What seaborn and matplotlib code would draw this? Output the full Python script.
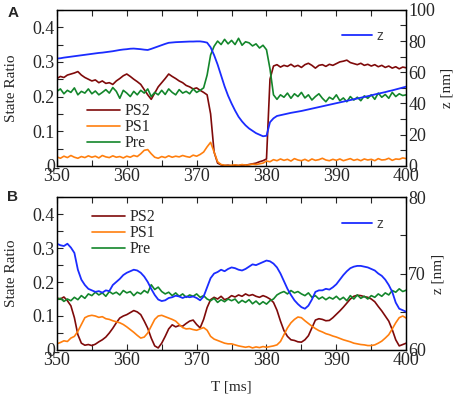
import numpy as np
import pandas as pd
import seaborn as sns
import matplotlib.pyplot as plt
from matplotlib.ticker import MultipleLocator, FuncFormatter

# time axis [ms], 0.5 ms steps
t = np.arange(350, 400.01, 0.5)

# ---- panel A ----
a_ps2 = [.252, .258, .255, .262, .265, .268, .272, .262, .255, .250,
         .245, .248, .240, .245, .238, .240, .235, .245, .252, .260,
         .265, .258, .250, .243, .235, .220, .205, .192, .210, .228,
         .240, .252, .265, .258, .252, .245, .240, .232, .228, .222,
         .225, .218, .212, .205, .150, .040, .008, .003, .001, .002,
         .000, .002, .001, .003, .002, .004, .006, .008, .012, .015,
         .020, .250, .288, .292, .285, .290, .287, .293, .286, .290,
         .284, .292, .296, .290, .282, .290, .292, .287, .293, .290,
         .295, .300, .302, .305, .298, .295, .292, .296, .290, .293,
         .288, .292, .286, .290, .284, .288, .282, .286, .280, .285,
         .283]
a_ps1 = [.026, .022, .028, .024, .030, .025, .022, .027, .024, .029,
         .025, .028, .023, .030, .026, .024, .029, .025, .027, .023,
         .028, .025, .030, .027, .035, .045, .047, .035, .025, .022,
         .027, .024, .029, .025, .028, .026, .030, .027, .025, .031,
         .028, .033, .040, .055, .068, .040, .012, .004, .002, .001,
         .002, .003, .001, .004, .002, .003, .005, .004, .006, .008,
         .014, .012, .018, .015, .020, .016, .019, .014, .021, .017,
         .015, .019, .014, .020, .016, .018, .022, .017, .015, .019,
         .016, .020, .015, .018, .021, .016, .019, .015, .020, .017,
         .019, .015, .021, .017, .018, .022, .016, .020, .019, .023,
         .021]
a_pre = [.215, .222, .208, .218, .212, .225, .205, .215, .210, .222,
         .208, .216, .205, .212, .220, .210, .226, .215, .195, .218,
         .210, .200, .215, .205, .218, .210, .222, .200, .212, .205,
         .218, .206, .222, .212, .205, .220, .210, .215, .208, .222,
         .212, .218, .225, .262, .320, .345, .360, .350, .365, .352,
         .362, .350, .368, .348, .358, .355, .346, .352, .340, .348,
         .335, .280, .205, .192, .205, .198, .210, .195, .208, .200,
         .212, .196, .205, .190, .200, .208, .195, .185, .198, .192,
         .205, .188, .196, .185, .200, .190, .198, .188, .202, .195,
         .205, .192, .210, .198, .206, .195, .212, .200, .208, .203,
         .205]
a_z = [68.8, 69.0, 69.4, 69.7, 70.0, 70.3, 70.6, 70.9, 71.2, 71.5,
       71.8, 72.1, 72.4, 72.6, 72.9, 73.2, 73.5, 73.9, 74.3, 74.6,
       74.8, 75.1, 75.2, 75.0, 74.8, 74.5, 74.3, 75.0, 75.8, 76.6,
       77.4, 78.2, 78.9, 79.1, 79.3, 79.4, 79.5, 79.6, 79.7, 79.7,
       79.8, 79.8, 79.5, 79.0, 76.0, 71.0, 65.0, 58.0, 51.0, 45.0,
       40.0, 35.5, 31.5, 28.5, 26.0, 24.0, 22.5, 21.0, 20.0, 19.0,
       19.3, 28.0, 30.5, 32.0, 32.5, 33.0, 33.5, 34.0, 34.4, 34.8,
       35.2, 35.7, 36.2, 36.7, 37.2, 37.7, 38.2, 38.7, 39.2, 39.7,
       40.2, 40.7, 41.2, 41.7, 42.2, 42.7, 43.2, 43.7, 44.2, 44.7,
       45.2, 45.8, 46.3, 46.8, 47.3, 47.9, 48.4, 49.0, 49.6, 50.2,
       50.8]

# ---- panel B ----
b_ps2 = [.153, .150, .156, .145, .130, .095, .045, .020, .014, .016,
         .013, .017, .024, .030, .038, .050, .064, .080, .094, .100,
         .104, .110, .116, .112, .104, .085, .064, .035, .012, .006,
         .020, .040, .062, .074, .068, .072, .070, .078, .085, .088,
         .075, .065, .090, .125, .148, .155, .150, .158, .148, .152,
         .160, .156, .162, .158, .165, .160, .163, .158, .155, .160,
         .156, .150, .140, .117, .085, .057, .040, .030, .028, .024,
         .023, .030, .042, .065, .088, .092, .090, .086, .087, .095,
         .105, .115, .126, .138, .150, .158, .161, .160, .157, .155,
         .150, .142, .128, .115, .100, .085, .060, .030, .012, .016,
         .020]
b_ps1 = [.018, .022, .027, .025, .035, .040, .055, .075, .095, .100,
         .102, .100, .096, .098, .092, .090, .086, .083, .080, .075,
         .068, .060, .052, .043, .035, .038, .050, .070, .090, .100,
         .102, .098, .094, .090, .085, .075, .066, .062, .063, .060,
         .058, .062, .066, .058, .040, .032, .028, .024, .020, .018,
         .018, .015, .012, .010, .008, .010, .006, .009, .007, .010,
         .008, .010, .012, .015, .025, .045, .065, .080, .090, .097,
         .095, .086, .078, .070, .063, .057, .053, .048, .045, .041,
         .038, .034, .030, .027, .024, .020, .018, .016, .015, .013,
         .013, .015, .020, .026, .035, .045, .062, .080, .095, .100,
         .094]
b_pre = [.148, .152, .143, .150, .145, .155, .148, .160, .152, .165,
         .160, .170, .162, .168, .158, .172, .165, .170, .162, .175,
         .168, .172, .160, .170, .165, .175, .168, .192, .178, .185,
         .172, .165, .170, .160, .168, .158, .165, .155, .162, .158,
         .165, .155, .160, .150, .145, .152, .140, .148, .142, .150,
         .145, .150, .138, .146, .140, .148, .136, .144, .134, .142,
         .135, .145, .150, .162, .168, .172, .165, .175, .168, .172,
         .165, .160, .168, .155, .160, .150, .156, .148, .155, .150,
         .158, .148, .155, .145, .160, .150, .162, .152, .158, .150,
         .160, .155, .165, .158, .168, .162, .175, .170, .180, .172,
         .176]
b_z = [73.9, 73.7, 73.6, 73.9, 73.4, 72.7, 70.5, 69.2, 68.5, 68.0,
       67.8, 67.6, 67.7, 67.5, 67.8, 67.7, 68.5, 68.9, 69.3, 69.8,
       70.1, 70.3, 70.5, 70.4, 70.1, 69.6, 68.9, 68.0, 67.2, 66.6,
       66.4, 66.5, 66.8, 66.9, 67.1, 67.0, 66.8, 67.0, 66.9, 67.0,
       66.8, 66.5, 67.0, 68.2, 69.4, 70.0, 70.2, 70.5, 70.3, 70.6,
       70.8, 70.7, 70.5, 70.4, 70.6, 70.9, 71.2, 71.1, 71.3, 71.5,
       71.7, 71.6, 71.3, 70.8, 70.0, 69.0, 68.0, 67.2, 66.5, 66.0,
       65.6, 65.4, 65.8, 66.6, 67.6, 67.8, 67.8, 68.0, 67.9, 68.2,
       68.6, 69.2, 69.8, 70.3, 70.7, 70.9, 71.0, 71.0, 70.9, 70.8,
       70.6, 70.4, 70.0, 69.7, 69.2, 68.5, 67.6, 66.2, 65.4, 65.2,
       65.0]

colors = {'PS2': '#7f0a0a', 'PS1': '#ff7f0e', 'Pre': '#13862b', 'z': '#1b2cff'}

sns.set_style('ticks')
plt.rcParams['font.family'] = ['Liberation Serif', 'DejaVu Serif']
plt.rcParams['xtick.direction'] = 'in'
plt.rcParams['ytick.direction'] = 'in'

fig = plt.figure(figsize=(4.59, 3.95), dpi=100)
axA = fig.add_axes([0.124, 0.580, 0.761, 0.395])
axB = fig.add_axes([0.124, 0.114, 0.761, 0.387])


def draw_panel(ax, ps2, ps1, pre, z, zlim, zmaj, zmin, leg_xy, zleg_xy):
    df = pd.DataFrame({'T': t, 'PS2': ps2, 'PS1': ps1, 'Pre': pre})
    for name in ['PS2', 'PS1', 'Pre']:
        sns.lineplot(data=df, x='T', y=name, ax=ax, color=colors[name], lw=1.2, label=name)
    ax.set_xlim(350, 400)
    ax.set_ylim(0, 0.45)
    ax.xaxis.set_major_locator(MultipleLocator(10))
    ax.xaxis.set_minor_locator(MultipleLocator(5))
    ax.yaxis.set_major_locator(MultipleLocator(0.1))
    ax.yaxis.set_minor_locator(MultipleLocator(0.05))
    ax.yaxis.set_major_formatter(FuncFormatter(lambda v, p: '0' if abs(v) < 1e-9 else f'{v:.1f}'))
    ax.tick_params(which='both', direction='in', top=True, length=4.5, width=0.8, labelsize=13, pad=1.5)
    ax.set_xlabel('')
    ax.set_ylabel('State Ratio', fontsize=11)
    ax.yaxis.set_label_coords(-0.11, 0.5)
    ax.legend(loc='upper left', bbox_to_anchor=leg_xy, frameon=False, fontsize=11.5,
              handlelength=2.1, handletextpad=0.25, labelspacing=0.0,
              borderpad=0, borderaxespad=0)

    ax2 = ax.twinx()
    sns.lineplot(x=t, y=z, ax=ax2, color=colors['z'], lw=1.3, label='z')
    ax2.set_ylim(*zlim)
    ax2.yaxis.set_major_locator(MultipleLocator(zmaj))
    ax2.yaxis.set_minor_locator(MultipleLocator(zmin))
    ax2.tick_params(which='both', direction='in', length=4.5, width=0.8, labelsize=13, pad=1.5)
    ax2.set_ylabel('z [nm]', fontsize=11)
    ax2.legend(loc='upper left', bbox_to_anchor=zleg_xy, frameon=False,
               prop={'family': 'Liberation Sans', 'size': 10}, labelcolor='#444444',
               handlelength=2.2, handletextpad=0.3, borderpad=0, borderaxespad=0)
    for a in (ax, ax2):
        for s in a.spines.values():
            s.set_linewidth(0.9)
            s.set_color('black')
    return ax2


draw_panel(axA, a_ps2, a_ps1, a_pre, a_z, (0, 100), 20, 10, (0.086, 0.40), (0.816, 0.88))
draw_panel(axB, b_ps2, b_ps1, b_pre, b_z, (60, 80), 10, 5, (0.100, 0.92), (0.816, 0.87))

axB.set_xlabel('T [ms]', fontsize=11)
axB.xaxis.set_label_coords(0.5, -0.2)

fig.text(0.016, 0.966, 'A', family='Liberation Sans', weight='bold', fontsize=11, va='center')
fig.text(0.016, 0.502, 'B', family='Liberation Sans', weight='bold', fontsize=11, va='center')

fig.savefig('out.png', dpi=100)
